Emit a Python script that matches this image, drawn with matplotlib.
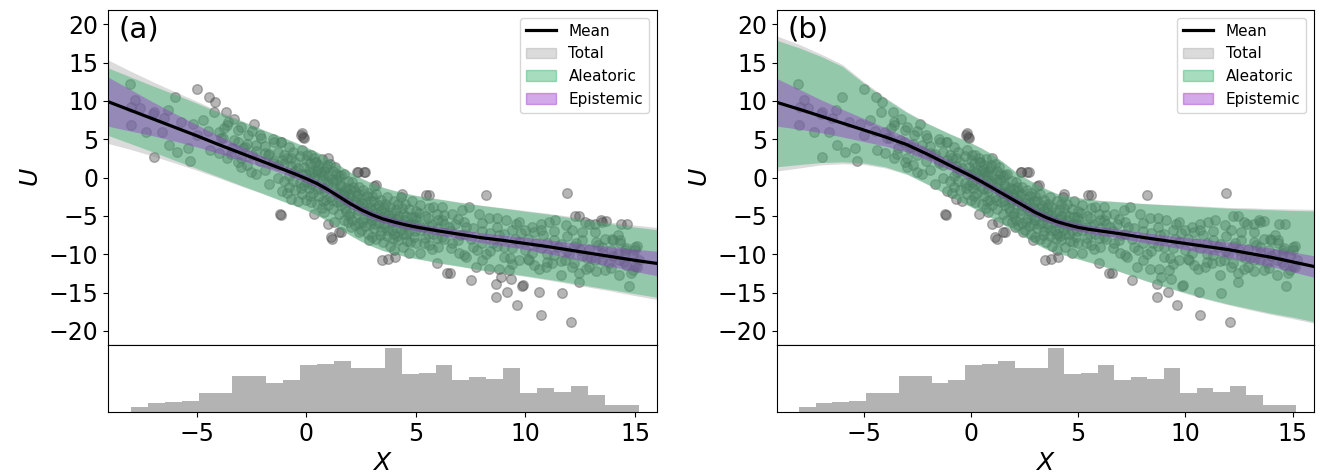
import numpy as np
import matplotlib
matplotlib.use("Agg")
import matplotlib.pyplot as plt
from matplotlib.patches import Patch
from matplotlib.lines import Line2D

plt.rcParams["font.family"] = ["DejaVu Sans"]
plt.rcParams["mathtext.fontset"] = "dejavusans"

# ---- observations (X, U) ----
x_pts = [
    # left part
    -8.06, -4.98, -4.42, -4.15, -6.93, -7.99, -8.02, -7.30, -6.96, -6.27, -5.89, -5.41, -5.33,
    -6.00, -6.30, -5.70, -5.18, -4.73, -4.19, -3.66, -3.59, -3.74, -3.28, -2.98, -2.37, -2.68,
    -2.07, -2.30, -3.13, -3.44, -2.98, -2.53, -1.77, -1.46, -1.16, -1.31, -0.70, -0.63, -0.25,
    -0.10, 0.05, 0.20, -0.25, -1.16, 0.05, 0.43, 0.66, 0.81, 0.97, 1.57, 1.72, 1.88, 0.81,
    1.27, 1.19, 1.57, 2.33, 2.63, -7.60, -7.00, -6.60, -5.00, -4.50, -3.90, -3.40, -2.80,
    -1.90, -1.50, -7.80, -6.50, -4.40, -3.00,
    -4.0, -4.0, -3.8, -3.6, -3.6, -3.3, -3.1, -3.1, -2.9, -2.7, -2.7, -2.5, -2.5, -2.3, -2.3,
    -2.1, -2.1, -1.9, -1.9, -1.7, -1.7, -1.5, -1.5, -1.3, -1.3, -1.1, -1.1,
    # middle part
    -1.0, -1.0, -1.0, -0.9, -0.9, -0.8, -0.8, -0.8, -0.7, -0.7, -0.6, -0.6, -0.5, -0.5, -0.5,
    -0.4, -0.4, -0.3, -0.3, -0.2, -0.2, -0.2, -0.1, -0.1, 0.0, 0.0, 0.0, 0.1, 0.1, 0.2, 0.2,
    0.2, 0.3, 0.3, 0.4, 0.4, 0.5, 0.5, 0.5, 0.6, 0.6, 0.7, 0.7, 0.7, 0.8, 0.8, 0.9, 0.9,
    1.0, 1.0, 1.0, 1.1, 1.1, 1.2, 1.2, 1.2, 1.3, 1.3, 1.4, 1.4, 1.5, 1.5, 1.5, 1.6, 1.6,
    1.7, 1.7, 1.7, 1.8, 1.8, 1.9, 1.9, 1.9, 2.0, 2.0, 2.0, 2.1, 2.1, 2.2, 2.2, 2.2, 2.3, 2.3,
    2.4, 2.4, 2.4, 2.5, 2.5, 2.6, 2.6, 2.6, 2.7, 2.7, 2.8, 2.8, 2.8, 2.9, 2.9, 3.0, 3.0, 3.0,
    3.0, 3.1, 3.1, 3.2, 3.2, 3.2, 3.3, 3.3, 3.4, 3.4, 3.4, 3.5, 3.5, 3.6, 3.6, 3.6, 3.7, 3.7,
    3.8, 3.8, 3.8, 3.9, 3.9, 4.0, 4.0, 4.0, 4.0, 4.1, 4.1, 4.2, 4.2, 4.2, 4.3, 4.3, 4.4, 4.4,
    4.4, 4.5, 4.5, 4.6, 4.6, 4.7, 4.7, 4.7, 4.8, 4.8, 4.9, 4.9, 5.0, 5.0, 5.0, 5.2, 5.2, 5.2,
    5.4, 5.4, 5.6, 5.6, 5.6, 5.8, 5.8, 6.0, 6.0, 6.0,
    0.15, 0.15, 0.35, 0.35, 0.55, 0.55, 0.75, 0.75, 0.95, 0.95, 1.15, 1.15, 1.35, 1.35, 1.55,
    1.55, 1.75, 1.75, 1.95, 1.95, 2.15, 2.15, 2.35, 2.35, 2.55, 2.55, 2.75, 2.75, 2.95, 2.95,
    3.15, 3.15, 3.35, 3.35, 3.55, 3.55, 3.75, 3.75, 3.95, 3.95, 4.15, 4.15, 4.35, 4.35, 4.55,
    4.55, 4.75, 4.75, 4.95, 4.95, 5.15, 5.15, 5.35, 5.35, 5.55, 5.55, 5.75, 5.75, 5.95, 5.95,
    # middle outliers
    -0.19, -0.16, -1.14, -1.22, 0.37, 2.35, 2.70, 3.10, 5.46, 1.13, 1.51, 0.98, 2.04, 2.42,
    2.88, 3.16, 4.35, 5.58, 3.47, 3.73, 4.04, 5.96, 6.57,
    # right part
    8.21, 11.90, 12.24, 13.45, 14.38, 6.44, 7.50, 8.67, 8.67, 9.17, 9.63, 9.88, 10.64, 10.69,
    11.67, 12.10, 14.71, 14.25, 12.43, 9.32, 8.87, 9.85,
    6.21, 6.67, 7.12, 7.43, 7.88, 8.34, 8.72, 9.10, 9.55, 10.00, 10.31, 10.69, 11.07, 11.37,
    11.83, 12.13, 12.59, 12.89, 13.19, 13.65, 13.95, 14.56, 15.01, 6.21, 6.67, 6.97, 7.27,
    7.73, 8.34, 8.79, 9.25, 9.70, 10.16, 10.61, 10.92, 11.22, 11.60, 12.13, 12.43, 12.74,
    13.19, 13.65, 14.25, 14.56, 15.01,
    6.5, 7.0, 7.5, 8.0, 8.5, 9.0, 9.5, 10.0, 10.5, 11.0, 11.5, 12.0, 12.5, 13.0, 13.5, 14.0,
    14.5, 15.0, 6.2, 6.8, 7.3, 7.8, 8.2, 8.8, 9.3, 9.8, 10.3, 10.8, 11.3, 11.8, 12.3, 12.8,
    13.3, 13.8, 14.3, 14.8, 15.2, 13.99, 14.33, 13.67, 14.64, 13.18, 13.49, 12.44, 12.72,
    6.3, 6.3, 6.3, 6.6, 6.6, 6.9, 6.9, 7.2, 7.2, 7.2, 7.6, 7.6, 8.0, 8.0, 8.0, 8.4, 8.4,
    8.7, 8.7, 9.0, 9.0, 9.4, 9.4, 9.4, 9.7, 9.7, 10.1, 10.1, 10.4, 10.4, 10.7, 10.7, 11.0,
    11.0, 11.3, 11.3, 11.6, 11.6, 11.9, 11.9, 12.2, 12.2, 12.6, 12.6, 12.9, 12.9, 13.2, 13.2,
    13.5, 13.5, 13.9, 13.9, 14.2, 14.2, 14.6, 14.6, 14.9, 14.9, 15.1, 15.1,
]
u_pts = [
    # left part
    12.26, 11.60, 10.50, 9.90, 8.60, 9.20, 6.80, 6.00, 2.70, 4.20, 3.30, 3.80, 2.20,
    10.50, 8.80, 7.30, 7.00, 7.50, 8.60, 8.60, 7.30, 6.40, 7.70, 6.60, 7.00, 5.50,
    5.10, 4.20, 4.60, 3.10, 1.40, 0.70, 2.90, 4.60, 4.60, 1.60, 2.50, 0.70, 5.50,
    5.10, 2.90, 0.70, -1.40, -4.90, -0.60, 2.00, 0.70, -1.40, 2.50, 0.30, -2.30, -3.20, -4.50,
    -5.80, -8.00, -7.10, 0.70, 0.70, 9.10, 8.30, 5.90, 5.60, 6.10, 5.10, 3.80, 4.00,
    3.20, 2.10, 10.10, 7.80, 3.60, 2.60,
    6.0, 3.2, 5.2, 2.6, 6.9, 4.9, 6.2, 2.0, 3.8, 1.6, 4.4, 2.9, 6.1, 0.4, 3.4,
    5.6, 2.2, 1.0, 4.1, 3.1, -0.9, 1.9, 5.0, 0.0, 3.3, 2.3, -1.8,
    # middle part
    3.0, -0.5, 1.8, -2.0, 2.5, 0.2, 4.0, -1.2, 1.5, -2.8, 3.3, -0.4, 2.0, -1.6, 0.8,
    -3.0, 1.2, 2.8, -0.7, 0.5, -2.2, 3.6, 1.4, -1.0, 2.3, -2.9, 0.4, -1.4, 1.0, 3.0, -0.8,
    -3.2, 0.6, -2.0, 2.0, -1.1, -3.5, 0.9, -0.2, 1.6, -2.4, -0.3, 2.4, -4.0, 0.8, -1.8, -2.9, 1.2,
    0.3, -0.9, -3.6, 1.8, -2.5, -0.6, -4.1, 0.9, -1.5, 1.4, -3.2, -0.3, 0.2, -2.0, -4.8, -1.0, -3.6,
    0.4, -2.2, -5.6, -1.3, -4.3, -0.4, -2.9, -5.8, -1.5, -4.6, -2.6, -0.6, -5.5, -3.0, -1.8, -6.2, -4.8, -2.4,
    -1.2, -5.9, -3.6, -2.8, -6.8, -4.0, -1.6, -5.4, -3.3, -6.3, -2.0, -4.9, -7.4, -3.9, -6.0, -2.4, -5.6, -7.8,
    -4.3, -3.1, -6.6, -4.6, -2.2, -8.0, -5.9, -3.6, -7.0, -4.2, -2.9, -5.1, -8.4, -3.4, -6.4, -4.6, -7.6, -2.6,
    -5.3, -8.9, -3.9, -6.8, -4.5, -3.0, -7.3, -5.6, -9.4, -4.2, -6.6, -8.1, -5.0, -3.4, -6.9, -2.6, -4.8, -9.0,
    -7.4, -5.6, -3.5, -8.3, -6.2, -4.1, -7.0, -9.8, -5.2, -3.0, -7.8, -6.0, -4.4, -8.6, -5.5, -6.9, -3.6, -9.9,
    -5.0, -7.9, -4.0, -8.8, -6.3, -7.4, -3.8, -5.6, -9.0, -6.6,
    1.9, -2.4, 0.0, 2.6, -1.5, 1.1, 0.3, -3.1, -0.4, 1.7, -2.9, -0.2, -1.9, 0.5, -3.0,
    -1.1, -1.7, -4.0, -2.2, -5.0, -3.4, -1.2, -4.2, -2.1, -3.3, -5.8, -4.3, -2.4, -5.1, -3.0,
    -4.0, -6.0, -5.0, -7.5, -6.0, -3.9, -4.9, -6.8, -5.8, -8.0, -7.6, -5.4, -6.0, -4.0, -7.3,
    -5.0, -6.1, -8.4, -5.2, -7.0, -6.2, -4.6, -8.6, -6.5, -5.3, -7.3, -6.1, -9.3, -4.7, -7.9,
    # middle outliers
    5.75, 5.30, 4.70, -4.70, -4.70, 0.75, 0.75, -1.10, -2.30, -7.70, -7.10, -6.00, -6.40, -7.10,
    -8.20, -1.00, -2.10, -2.30, -10.70, -10.60, -10.30, -11.20, -12.50,
    # right part
    -2.30, -1.95, -5.00, -5.60, -6.00, -12.40, -13.30, -13.90, -15.60, -14.90, -16.60, -14.00, -14.90, -17.90,
    -15.00, -18.90, -14.20, -12.70, -13.60, -13.20, -13.00, -14.20,
    -3.80, -4.70, -4.25, -3.80, -4.70, -5.30, -5.30, -5.60, -6.00, -6.90, -6.40, -6.00, -5.80, -5.60,
    -6.20, -6.90, -7.10, -6.00, -7.10, -8.00, -8.00, -9.50, -9.00, -7.70, -8.60, -9.90, -10.30,
    -11.60, -11.90, -11.90, -12.10, -10.80, -10.80, -11.90, -11.60, -11.20, -12.70, -11.60, -12.50, -11.90,
    -10.80, -12.10, -10.80, -9.90, -9.50,
    -6.5, -7.5, -8.0, -7.0, -8.5, -9.0, -8.0, -9.5, -8.5, -10.0, -9.0, -10.0, -9.5, -10.5, -9.8, -10.2,
    -11.0, -11.5, -5.5, -6.0, -6.5, -9.5, -10.0, -7.5, -10.5, -7.2, -9.8, -7.5, -8.2, -10.8, -8.5, -10.5,
    -8.8, -11.2, -8.5, -12.5, -10.8, -8.1, -8.1, -5.65, -6.08, -6.1, -5.8, -5.0, -5.8,
    -6.1, -8.0, -4.9, -7.0, -9.2, -5.4, -8.1, -7.3, -10.1, -5.8, -6.6, -9.0, -8.6, -5.9, -10.8, -7.2, -9.6,
    -6.4, -8.9, -10.4, -7.4, -6.9, -9.2, -11.3, -8.4, -5.8, -8.0, -10.6, -7.1, -11.4, -9.2, -6.8, -8.6,
    -11.0, -10.1, -7.0, -8.7, -10.9, -7.6, -9.6, -11.2, -8.9, -8.1, -10.2, -11.6, -9.3, -8.4, -12.2,
    -9.1, -10.7, -11.8, -9.5, -10.0, -7.5, -11.4, -9.2, -10.1, -12.0, -11.7, -8.9,
]

# ---- model outputs on a grid of X ----
x_grid = [-9.05, -8, -7, -6, -5, -4, -3, -2, -1, -0.5, 0, 0.5, 1, 1.5, 2, 2.5, 3, 3.5, 4,
          4.5, 5, 5.5, 6, 7, 8, 9, 10, 11, 12, 13, 14, 15, 16]

# panel (a)
mean_a = [9.9, 8.75, 7.65, 6.55, 5.45, 4.3, 3.2, 2.1, 1.0, 0.45, -0.15, -0.8, -1.6, -2.5,
          -3.4, -4.2, -4.85, -5.4, -5.8, -6.15, -6.45, -6.7, -6.95, -7.4, -7.85, -8.2, -8.6,
          -9.0, -9.45, -9.9, -10.35, -10.8, -11.2]
ale_top_a = [14.3, 13.1, 11.95, 10.85, 9.7, 8.5, 7.4, 6.25, 5.15, 4.55, 3.95, 3.3, 2.5, 1.6,
             0.7, -0.1, -0.75, -1.3, -1.7, -2.05, -2.35, -2.6, -2.8, -3.25, -3.65, -4.0, -4.4,
             -4.75, -5.2, -5.6, -6.05, -6.45, -6.8]
ale_bot_a = [5.5, 4.4, 3.35, 2.25, 1.2, 0.1, -1.0, -2.05, -3.15, -3.65, -4.25, -4.9, -5.7,
             -6.6, -7.5, -8.3, -8.95, -9.5, -9.9, -10.25, -10.55, -10.8, -11.1, -11.55, -12.05,
             -12.4, -12.8, -13.25, -13.7, -14.2, -14.65, -15.15, -15.6]
epi_a = [3.2, 2.7, 2.2, 1.8, 1.45, 1.15, 0.9, 0.7, 0.55, 0.5, 0.5, 0.5, 0.5, 0.5, 0.5, 0.5,
         0.5, 0.5, 0.5, 0.5, 0.5, 0.5, 0.55, 0.6, 0.65, 0.7, 0.8, 0.9, 1.0, 1.15, 1.3, 1.45, 1.6]
tot_pad_a = [1.05, 0.75, 0.55, 0.35, 0.25, 0.15, 0.1, 0.05, 0.05, 0.05, 0.05, 0.05, 0.05,
             0.05, 0.05, 0.05, 0.05, 0.05, 0.05, 0.05, 0.05, 0.05, 0.05, 0.05, 0.05, 0.05,
             0.1, 0.1, 0.15, 0.15, 0.2, 0.25, 0.3]

# panel (b)
mean_b = [9.8, 8.9, 8.0, 7.1, 6.2, 5.3, 4.3, 3.0, 1.6, 0.9, 0.2, -0.55, -1.35, -2.15, -2.95,
          -3.75, -4.55, -5.2, -5.75, -6.15, -6.5, -6.75, -6.95, -7.35, -7.8, -8.2, -8.6,
          -9.0, -9.4, -9.9, -10.4, -11.0, -11.6]
ale_top_b = [17.9, 16.9, 15.8, 14.5, 12.3, 10.3, 8.5, 7.0, 5.7, 5.1, 4.5, 3.8, 3.0, 2.0, 0.9,
             0.0, -0.8, -1.5, -2.1, -2.4, -2.65, -2.85, -3.0, -3.2, -3.4, -3.55, -3.7, -3.85,
             -4.0, -4.1, -4.2, -4.3, -4.35]
ale_bot_b = [1.4, 1.7, 1.95, 2.05, 1.9, 1.4, 0.5, -0.9, -2.4, -3.1, -3.8, -4.5, -5.3, -6.1,
             -6.9, -7.7, -8.6, -9.3, -9.8, -10.2, -10.6, -11.0, -11.4, -12.3, -13.3, -14.2,
             -15.0, -15.8, -16.5, -17.1, -17.7, -18.2, -18.8]
epi_b = [3.1, 2.6, 2.15, 1.8, 1.5, 1.2, 0.95, 0.75, 0.6, 0.55, 0.5, 0.5, 0.5, 0.5, 0.5, 0.5,
         0.5, 0.5, 0.5, 0.5, 0.5, 0.5, 0.55, 0.6, 0.65, 0.7, 0.8, 0.9, 1.0, 1.1, 1.2, 1.3, 1.4]
tot_pad_b = [0.55, 0.45, 0.3, 0.25, 0.2, 0.15, 0.1, 0.05, 0.05, 0.05, 0.05, 0.05, 0.05, 0.05,
             0.05, 0.05, 0.05, 0.05, 0.05, 0.05, 0.05, 0.05, 0.05, 0.05, 0.05, 0.05, 0.1, 0.1,
             0.1, 0.15, 0.15, 0.2, 0.2]

# ---- histogram of X (30 bins) ----
bin_edges = [-8.00, -7.23, -6.46, -5.68, -4.91, -4.14, -3.37, -2.60, -1.82, -1.05, -0.28,
             0.49, 1.26, 2.04, 2.81, 3.58, 4.35, 5.12, 5.90, 6.67, 7.44, 8.21, 8.98, 9.76,
             10.53, 11.30, 12.07, 12.84, 13.62, 14.39, 15.16]
bin_counts = [5, 8, 9, 10, 17, 17, 32, 32, 26, 29, 42, 43, 46, 39, 39, 57, 34, 35, 42, 29,
              31, 30, 39, 17, 22, 18, 23, 15, 6, 6]

panel_labels = ["(a)", "(b)"]
legend_labels = ["Mean", "Total", "Aleatoric", "Epistemic"]

c_total = "gray"
c_ale = "mediumseagreen"
c_epi = "darkorchid"
a_total, a_ale, a_epi = 0.28, 0.45, 0.42

fig = plt.figure(figsize=(13.2, 4.76), dpi=100)

panels = [
    (mean_a, ale_top_a, ale_bot_a, epi_a, tot_pad_a, 0.0818, 0.4159),
    (mean_b, ale_top_b, ale_bot_b, epi_b, tot_pad_b, 0.5886, 0.4069),
]

xg = np.array(x_grid)
for k, (mean, top, bot, epi, pad, left, width) in enumerate(panels):
    mean = np.array(mean)
    top = np.array(top)
    bot = np.array(bot)
    epi = np.array(epi)
    pad = np.array(pad)

    ax = fig.add_axes([left, 0.275, width, 0.704])
    axh = fig.add_axes([left, 0.134, width, 0.141], sharex=ax)

    ax.scatter(x_pts, u_pts, s=48, color="#4a4a4a", alpha=0.4, lw=1, zorder=1)
    ax.fill_between(xg, bot - pad, top + pad, color=c_total, alpha=a_total, lw=0, zorder=2)
    ax.fill_between(xg, bot, top, color=c_ale, alpha=a_ale, lw=0, zorder=2)
    ax.fill_between(xg, mean - epi, mean + epi, color=c_epi, alpha=a_epi, lw=0, zorder=2)
    ax.plot(xg, mean, color="black", lw=2.3, zorder=4)

    ax.set_xlim(-9.05, 16.0)
    ax.set_ylim(-21.85, 21.85)
    ax.set_yticks([-20, -15, -10, -5, 0, 5, 10, 15, 20])
    ax.tick_params(axis="y", labelsize=17)
    ax.tick_params(axis="x", bottom=False, labelbottom=False)
    ax.set_ylabel("$U$", fontsize=18)
    ax.text(0.02, 0.985, panel_labels[k], transform=ax.transAxes, fontsize=21,
            va="top", ha="left")

    handles = [
        Line2D([0], [0], color="black", lw=2.3),
        Patch(facecolor=c_total, alpha=a_total, edgecolor=c_total),
        Patch(facecolor=c_ale, alpha=a_ale, edgecolor=c_ale),
        Patch(facecolor=c_epi, alpha=a_epi, edgecolor=c_epi),
    ]
    ax.legend(handles, legend_labels, loc="upper right", fontsize=11)

    axh.bar(bin_edges[:-1], bin_counts, width=np.diff(bin_edges), align="edge",
            color="#b3b3b3", lw=0)
    axh.set_yticks([])
    axh.set_xticks([-5, 0, 5, 10, 15])
    axh.tick_params(axis="x", labelsize=17)
    axh.set_xlabel("$X$", fontsize=18)

fig.savefig("out.png", dpi=100)
